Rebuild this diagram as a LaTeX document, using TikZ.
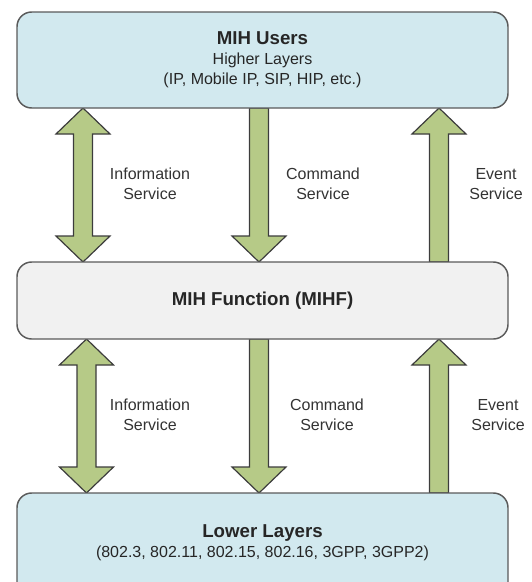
\documentclass[tikz,border=0pt]{standalone}
\usepackage{fontspec}
\setmainfont{Liberation Sans}
\usetikzlibrary{backgrounds}

\definecolor{layerblue}{HTML}{D2E9EF}
\definecolor{mihfgray}{HTML}{F1F1F1}
\definecolor{boxline}{HTML}{5A5A5A}
\definecolor{arrowgreen}{HTML}{B6CA87}
\definecolor{arrowline}{HTML}{3C3C3C}

\tikzset{
    layer/.style={draw=boxline, line width=1.1pt, rounded corners=11pt,
        minimum width=368.25pt, align=center, inner sep=0pt, outer sep=0pt,
        font=\fontsize{12}{15}\selectfont, text=black!85},
    blockarrow/.style={draw=arrowline, fill=arrowgreen, line width=0.9pt},
    svclabel/.style={align=center, font=\fontsize{12}{15}\selectfont, text=black!80},
    pics/bothways/.style={code={
        \draw[blockarrow] (0,0) -- (27,26) -- (9.5,26) -- (9.5,128) -- (27,128)
            -- (0,154) -- (-27,128) -- (-9.5,128) -- (-9.5,26) -- (-27,26) -- cycle;
    }},
    pics/downward/.style={code={
        \draw[blockarrow] (-9.5,0) -- (9.5,0) -- (9.5,128) -- (27,128)
            -- (0,154) -- (-27,128) -- (-9.5,128) -- cycle;
    }},
    pics/upward/.style={code={
        \draw[blockarrow] (0,0) -- (27,26) -- (9.5,26) -- (9.5,154)
            -- (-9.5,154) -- (-9.5,26) -- (-27,26) -- cycle;
    }}
}

\begin{document}
\begin{tikzpicture}[x=0.75pt, y=-0.75pt]
    \clip (0,0) rectangle (532,582);

    \node[layer, fill=layerblue, minimum height=72pt] (users) at (262.5,60)
        {{\fontsize{14}{15}\selectfont\bfseries MIH Users}\\Higher Layers\\(IP, Mobile IP, SIP, HIP, etc.)};
    \node[layer, fill=mihfgray, minimum height=57.75pt] (mihf) at (262.5,300.5)
        {\fontsize{14}{15}\selectfont\bfseries MIH Function (MIHF)};
    \node[layer, fill=layerblue, minimum height=82.5pt] (lower) at (262.5,548)
        {{\fontsize{14}{15}\selectfont\bfseries Lower Layers}\\(802.3, 802.11, 802.15, 802.16, 3GPP, 3GPP2)\rule[-10pt]{0pt}{0pt}};

    \foreach \name/\x in {hi/83, hc/259, he/439, li/86.5, lc/259, le/439}
        \coordinate (\name) at (\x,0);

    \begin{pgfonlayer}{background}
        \pic at (hi |- users.south) {bothways};
        \pic at (hc |- users.south) {downward};
        \pic at (he |- users.south) {upward};
        \pic at (li |- mihf.south) {bothways};
        \pic at (lc |- mihf.south) {downward};
        \pic at (le |- mihf.south) {upward};
    \end{pgfonlayer}

    \foreach \x/\y/\txt [count=\i] in {
        150/184/Information\\Service,
        323/184/Command\\Service,
        496/184/Event\\Service,
        150/415/Information\\Service,
        327/415/Command\\Service,
        498/415/Event\\Service
    }{
        \node[svclabel] (svc\i) at (\x,\y) {\txt};
    }
\end{tikzpicture}
\end{document}
